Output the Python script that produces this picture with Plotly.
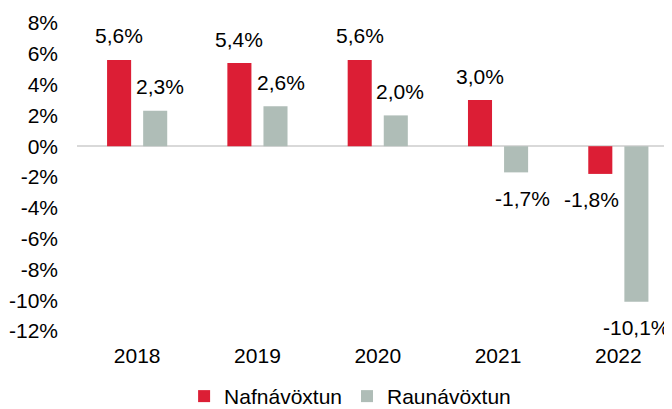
import plotly.graph_objects as go

years = ["2018", "2019", "2020", "2021", "2022"]
nafnavoxtun = [5.6, 5.4, 5.6, 3.0, -1.8]
raunavoxtun = [2.3, 2.6, 2.0, -1.7, -10.1]
series_names = ["Nafnávöxtun", "Raunávöxtun"]
y_tick_values = [8, 6, 4, 2, 0, -2, -4, -6, -8, -10, -12]
y_tick_labels = ["8%", "6%", "4%", "2%", "0%", "-2%", "-4%", "-6%", "-8%", "-10%", "-12%"]

RED = "#DC1E35"
GRAY = "#AFBDB7"
FONT = "Liberation Sans, Arial, sans-serif"
FS = 21


def fmt(v):
    return f"{v:.1f}".replace(".", ",") + "%"


fig = go.Figure()
fig.add_trace(go.Bar(x=years, y=nafnavoxtun, name=series_names[0], marker_color=RED,
                     marker_line_width=0, hoverinfo="skip"))
fig.add_trace(go.Bar(x=years, y=raunavoxtun, name=series_names[1], marker_color=GRAY,
                     marker_line_width=0, hoverinfo="skip"))

# value labels; small horizontal nudges mimic the hand-placed labels of the original
base_shift = {0: -18, 1: 18}
nudge = {(1, 0): 5, (1, 1): 6, (1, 2): 4, (1, 3): 6, (0, 4): -9}
for s, values in enumerate((nafnavoxtun, raunavoxtun)):
    for i, v in enumerate(values):
        fig.add_annotation(
            x=i, y=v, xref="x", yref="y", text=fmt(v), showarrow=False,
            xshift=base_shift[s] + nudge.get((s, i), 0),
            yshift=24 if v >= 0 else -26,
            xanchor="center", yanchor="middle",
            font=dict(family=FONT, size=FS, color="#000000"),
        )

# The page adds an 8px body margin, so the figure is 8px smaller than the window.
fig.update_layout(
    width=664, height=401,
    margin=dict(l=69, r=0, t=15, b=78, autoexpand=False),
    paper_bgcolor="white", plot_bgcolor="white",
    barmode="group", bargap=0.40, bargroupgap=1/3,
    font=dict(family=FONT, size=FS, color="#000000"),
    showlegend=True,
    legend=dict(orientation="h", x=0.18, xanchor="left", y=-0.146, yanchor="top",
                font=dict(family=FONT, size=FS, color="#000000"),
                bgcolor="rgba(0,0,0,0)", traceorder="normal"),
    xaxis=dict(type="category", range=[-0.5, 4.446], showgrid=False, showline=False, ticks="",
               zeroline=False, ticklabelstandoff=10,
               tickfont=dict(family=FONT, size=FS, color="#000000")),
    yaxis=dict(range=[-12, 8], tickvals=y_tick_values, ticktext=y_tick_labels,
               showgrid=False, showline=False, ticks="",
               zeroline=True, zerolinecolor="#D9D9D9", zerolinewidth=2,
               ticklabelstandoff=18,
               tickfont=dict(family=FONT, size=FS, color="#000000")),
)

fig.write_html("out.html")
